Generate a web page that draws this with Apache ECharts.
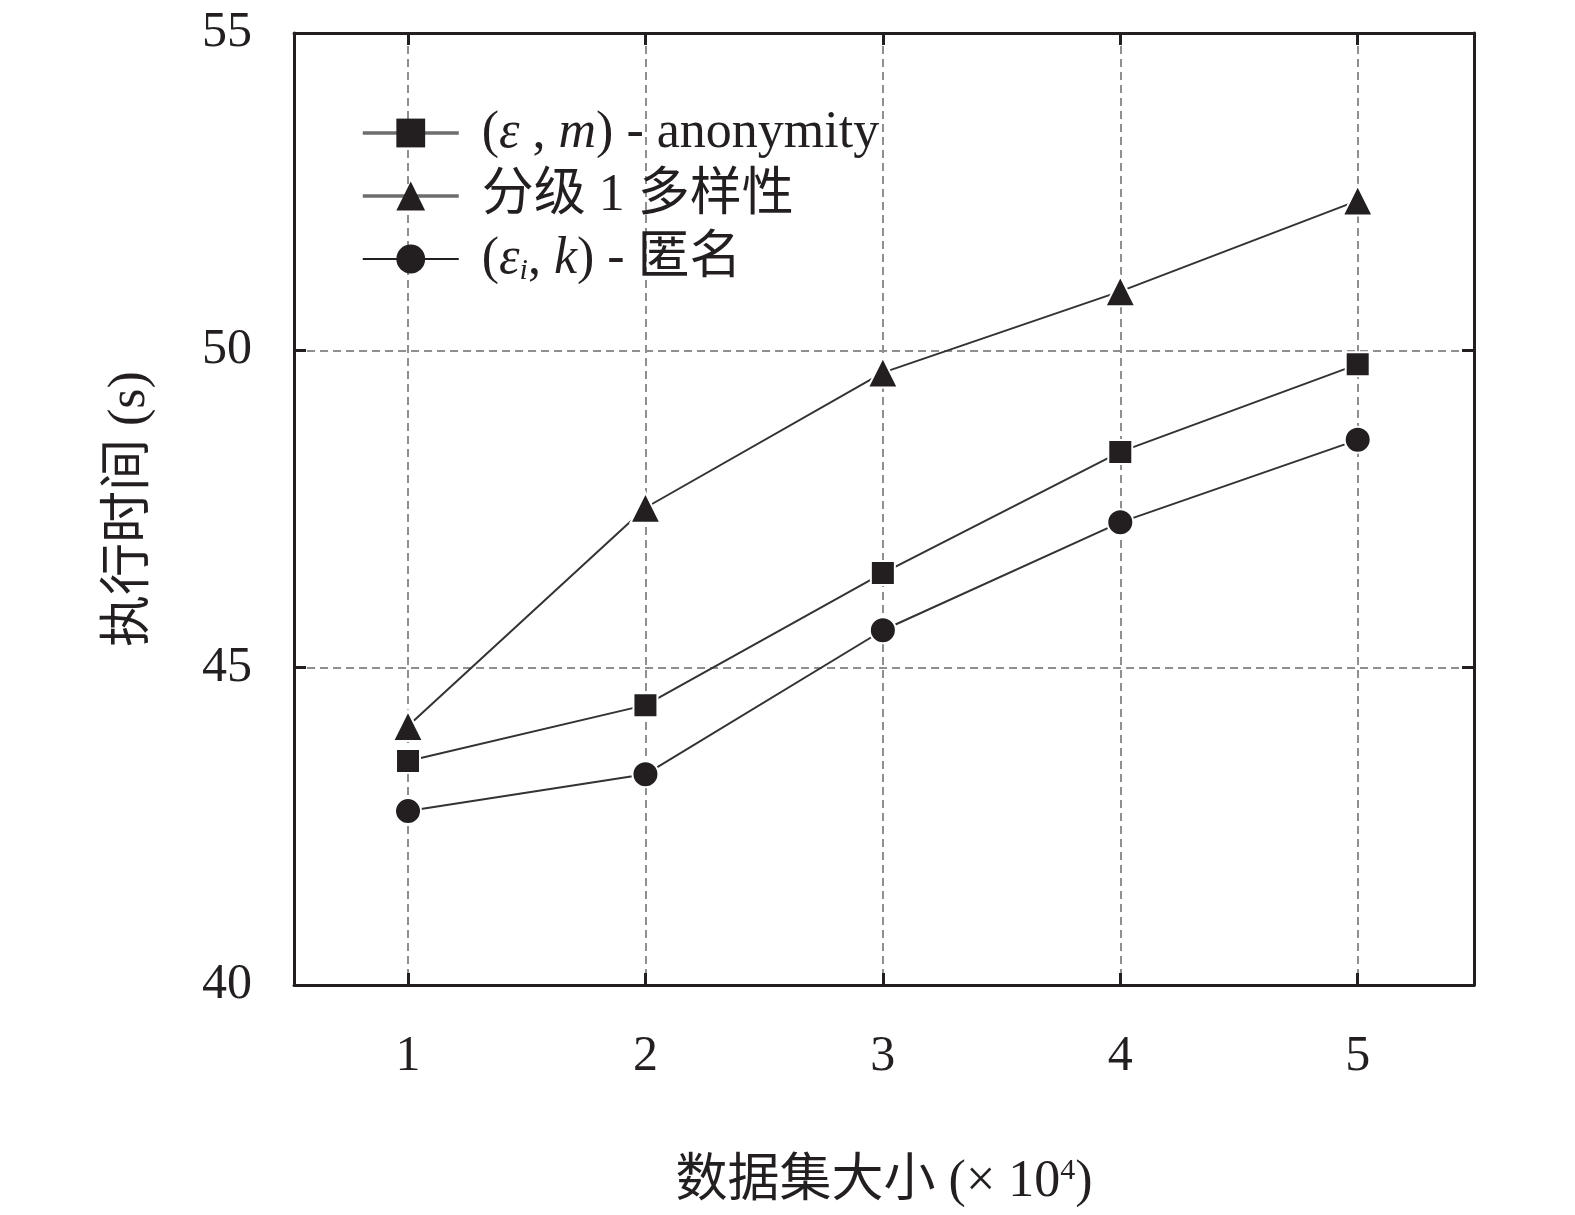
<!DOCTYPE html>
<html>
<head>
<meta charset="utf-8">
<script src="https://cdn.jsdelivr.net/npm/echarts@6/dist/echarts.min.js"></script>
<style>
    html, body { margin: 0; padding: 0; background: #fff; overflow: hidden; }
    #main { width: 100vw; height: 100vh; }
</style>
</head>
<body>
<div id="main"></div>
<script>
    // 数据集大小 (x 10^4)
    var sizes = [1, 2, 3, 4, 5];
    var yTicks = [40, 45, 50, 55];
    var seriesNames = ['(ε , m) - anonymity', '分级 1 多样性', '(εi, k) - 匿名'];
    var emAnon = [43.53, 44.41, 46.49, 48.40, 49.78];
    var gradeDiv = [44.08, 47.52, 49.65, 50.93, 52.36];
    var eikAnon = [42.74, 43.32, 45.59, 47.29, 48.59];

    var legendRich = {};
    legendRich[seriesNames[0]] = '({it|ε} , {it|m}) - anonymity';
    legendRich[seriesNames[1]] = '分级 1 多样性';
    legendRich[seriesNames[2]] = '({it|ε}{sub|i}, {it|k}) - 匿名';

    var fontFam = "'Liberation Serif', 'Times New Roman', 'Noto Sans CJK SC', serif";
    var ink = '#231f20';

    function pairs(vals) {
        var out = [];
        for (var i = 0; i < sizes.length; i++) {
            out.push([sizes[i], vals[i]]);
        }
        return out;
    }

    function lineSeries(name, vals, symbol, size) {
        return {
            name: name,
            type: 'line',
            xAxisIndex: 0,
            yAxisIndex: 0,
            data: pairs(vals),
            symbol: symbol,
            symbolSize: size,
            lineStyle: { color: '#333', width: 2 },
            itemStyle: { color: ink, borderColor: '#fff', borderWidth: 2 },
            animation: false
        };
    }

    var axisLineStyle = { show: true, lineStyle: { color: ink, width: 3 } };
    var tickStyle = { show: true, inside: true, length: 12, lineStyle: { color: ink, width: 3 } };
    var gridLine = { show: true, lineStyle: { color: '#8f8f8f', width: 2, type: [8, 5] } };

    var myChart = echarts.init(document.getElementById('main'));
    myChart.setOption({
        backgroundColor: '#fff',
        textStyle: { fontFamily: fontFam },
        grid: { left: '18.67%', right: '6.41%', top: '2.72%', bottom: '18.93%', containLabel: false },
        legend: {
            orient: 'vertical',
            left: 356,
            top: 101,
            itemWidth: 96,
            itemHeight: 36,
            itemGap: 9,
            itemStyle: { borderWidth: 0 },
            data: [
                { name: seriesNames[0], lineStyle: { color: '#6d6d6d', width: 3.5 } },
                { name: seriesNames[1], lineStyle: { color: '#6d6d6d', width: 3.5 } },
                { name: seriesNames[2], lineStyle: { color: ink, width: 2 } }
            ],
            formatter: function (name) { return legendRich[name]; },
            textStyle: {
                fontFamily: fontFam,
                fontSize: 52,
                color: ink,
                lineHeight: 54,
                padding: [0, 0, 0, 18],
                rich: {
                    it: { fontStyle: 'italic', fontSize: 52, fontFamily: fontFam, color: ink, lineHeight: 54 },
                    sub: { fontStyle: 'italic', fontSize: 30, fontFamily: fontFam, color: ink, lineHeight: 30, verticalAlign: 'bottom' }
                }
            }
        },
        xAxis: [{
            type: 'value',
            position: 'bottom',
            min: 0.52,
            max: 5.49,
            axisLine: axisLineStyle,
            axisTick: tickStyle,
            splitLine: gridLine,
            axisLabel: {
                showMinLabel: false,
                showMaxLabel: false,
                margin: 47,
                fontSize: 50,
                color: ink,
                fontFamily: fontFam,
                formatter: function (v) { return sizes.indexOf(v) >= 0 ? String(v) : ''; }
            },
            name: '数据集大小 (× 10{sup|4})',
            nameLocation: 'middle',
            nameGap: 171,
            nameTextStyle: {
                fontSize: 52,
                color: ink,
                fontFamily: fontFam,
                rich: {
                    sup: { fontSize: 30, fontFamily: fontFam, color: ink, verticalAlign: 'top', lineHeight: 30 }
                }
            }
        }, {
            type: 'value',
            position: 'top',
            min: 0.52,
            max: 5.49,
            axisLine: axisLineStyle,
            axisTick: tickStyle,
            splitLine: { show: false },
            axisLabel: { show: false }
        }],
        yAxis: [{
            type: 'value',
            position: 'left',
            min: yTicks[0],
            max: yTicks[yTicks.length - 1],
            interval: 5,
            axisLine: axisLineStyle,
            axisTick: tickStyle,
            splitLine: gridLine,
            axisLabel: { margin: 42, fontSize: 50, color: ink, fontFamily: fontFam },
            name: '执行时间 (s)',
            nameLocation: 'middle',
            nameGap: 138,
            nameTextStyle: { fontSize: 52, color: ink, fontFamily: fontFam }
        }, {
            type: 'value',
            position: 'right',
            min: yTicks[0],
            max: yTicks[yTicks.length - 1],
            interval: 5,
            axisLine: axisLineStyle,
            axisTick: tickStyle,
            splitLine: { show: false },
            axisLabel: { show: false }
        }],
        series: [
            lineSeries(seriesNames[0], emAnon, 'rect', 24),
            lineSeries(seriesNames[1], gradeDiv, 'triangle', 30),
            lineSeries(seriesNames[2], eikAnon, 'circle', 26)
        ]
    });
</script>
</body>
</html>
